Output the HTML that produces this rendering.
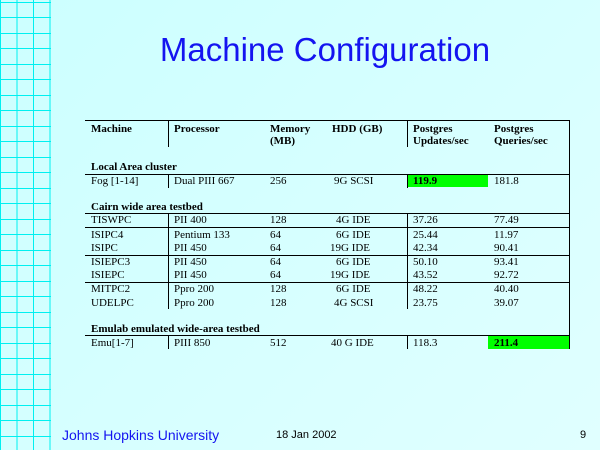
<!DOCTYPE html>
<html><head><meta charset="utf-8"><style>
body{margin:0}
#s{position:relative;width:600px;height:450px;overflow:hidden;background:linear-gradient(135deg,#ccffff 0%,#e0ffff 100%);font-family:"Liberation Serif",serif;}
.t{position:absolute;font-size:11px;color:#000;white-space:nowrap;line-height:12px}
.b{font-weight:bold}
.h{position:absolute;height:1px;background:#000}
.v{position:absolute;width:1px;background:#000}
.g{position:absolute;background:#00ff00}
</style></head><body>
<div id="s">
<svg width="52" height="450" style="position:absolute;left:0;top:0">
<g stroke="#00f0f0" stroke-width="1">
<line x1="0.5" y1="0" x2="0.5" y2="450"/><line x1="17" y1="0" x2="17" y2="450"/><line x1="33.5" y1="0" x2="33.5" y2="450"/><line x1="50" y1="0" x2="50" y2="450"/>
</g>
<g id="hl" stroke="#00f0f0" stroke-width="1"></g>
</svg>
<script>
var hl=document.getElementById('hl');
for(var y=1.5;y<450;y+=15.5){var l=document.createElementNS('http://www.w3.org/2000/svg','line');l.setAttribute('x1',0);l.setAttribute('x2',51);l.setAttribute('y1',Math.round(y)+0.5);l.setAttribute('y2',Math.round(y)+0.5);hl.appendChild(l);}
</script>
<div style="position:absolute;left:0;width:650px;top:30px;text-align:center;font-family:'Liberation Sans',sans-serif;font-size:33px;color:#1414f0;line-height:40px">Machine Configuration</div>

<div>
<div class="h" style="left:85px;top:120px;width:485px"></div>
<div class="v" style="left:569px;top:120px;height:229px"></div>
<div class="v" style="left:168px;top:120px;height:27px"></div>
<div class="v" style="left:407px;top:120px;height:27px"></div>
<div class="t b" style="left:91px;top:123px">Machine</div>
<div class="t b" style="left:174px;top:123px">Processor</div>
<div class="t b" style="left:270px;top:123px">Memory<br>(MB)</div>
<div class="t b" style="left:332px;top:123px">HDD (GB)</div>
<div class="t b" style="left:413px;top:123px">Postgres<br>Updates/sec</div>
<div class="t b" style="left:494px;top:123px">Postgres<br>Queries/sec</div>

<div class="t b" style="left:91px;top:161px">Local Area cluster</div>
<div class="h" style="left:85px;top:174px;width:485px"></div>
<div class="g" style="left:408px;top:175px;width:80px;height:12px"></div>
<div class="v" style="left:168px;top:175px;height:13px"></div>
<div class="v" style="left:407px;top:175px;height:13px"></div>
<div class="t" style="left:91px;top:175px">Fog [1-14]</div>
<div class="t" style="left:174px;top:175px">Dual PIII 667</div>
<div class="t" style="left:270px;top:175px">256</div>
<div class="t" style="left:334px;top:175px">9G SCSI</div>
<div class="t b" style="left:413px;top:175px">119.9</div>
<div class="t" style="left:494px;top:175px">181.8</div>

<div class="t b" style="left:91px;top:201px">Cairn wide area testbed</div>
<div class="h" style="left:85px;top:213px;width:485px"></div>
<div class="v" style="left:168px;top:214px;height:95px"></div>
<div class="v" style="left:407px;top:214px;height:95px"></div>
<div id="cairn"></div>

<div class="t b" style="left:91px;top:323px">Emulab emulated wide-area testbed</div>
<div class="h" style="left:85px;top:335px;width:485px"></div>
<div class="g" style="left:488px;top:336px;width:81px;height:13px"></div>
<div class="v" style="left:168px;top:336px;height:13px"></div>
<div class="v" style="left:407px;top:336px;height:13px"></div>
<div class="t" style="left:91px;top:337px">Emu[1-7]</div>
<div class="t" style="left:174px;top:337px">PIII 850</div>
<div class="t" style="left:270px;top:337px">512</div>
<div class="t" style="left:331px;top:337px">40 G IDE</div>
<div class="t" style="left:413px;top:337px">118.3</div>
<div class="t b" style="left:494px;top:337px">211.4</div>
</div>
<script>
var machines=['TISWPC','ISIPC4','ISIPC','ISIEPC3','ISIEPC','MITPC2','UDELPC'];
var procs=['PII 400','Pentium 133','PII 450','PII 450','PII 450','Ppro 200','Ppro 200'];
var mems=['128','64','64','64','64','128','128'];
var hdds=['4G IDE','6G IDE','19G IDE','6G IDE','19G IDE','6G IDE','4G SCSI'];
var upd=['37.26','25.44','42.34','50.10','43.52','48.22','23.75'];
var qry=['77.49','11.97','90.41','93.41','92.72','40.40','39.07'];
var tops=[214,229,242,256,269,283,297];
var seps=[227,255,282];
var c=document.getElementById('cairn');
seps.forEach(function(y){var d=document.createElement('div');d.className='h';d.style.cssText='left:85px;width:485px;top:'+y+'px';


c.appendChild(d);});
machines.forEach(function(m,i){
 var cols=[[91,m],[174,procs[i]],[270,mems[i]],[hdds[i].length>6?334:336,hdds[i]],[413,upd[i]],[494,qry[i]]];
 if(hdds[i].indexOf('19')==0)cols[3][0]=330;
 cols.forEach(function(cc){var d=document.createElement('div');d.className='t';d.style.left=cc[0]+'px';d.style.top=tops[i]+'px';d.textContent=cc[1];
 
 
 c.appendChild(d);});
});
</script>
<div style="position:absolute;left:62px;top:427px;font-family:'Liberation Sans',sans-serif;font-size:14px;color:#1414f0">Johns Hopkins University</div>
<div style="position:absolute;left:276px;top:429px;font-family:'Liberation Sans',sans-serif;font-size:11px;color:#000">18 Jan 2002</div>
<div style="position:absolute;left:580px;top:429px;font-family:'Liberation Sans',sans-serif;font-size:11px;color:#000">9</div>
</div>
</body></html>
